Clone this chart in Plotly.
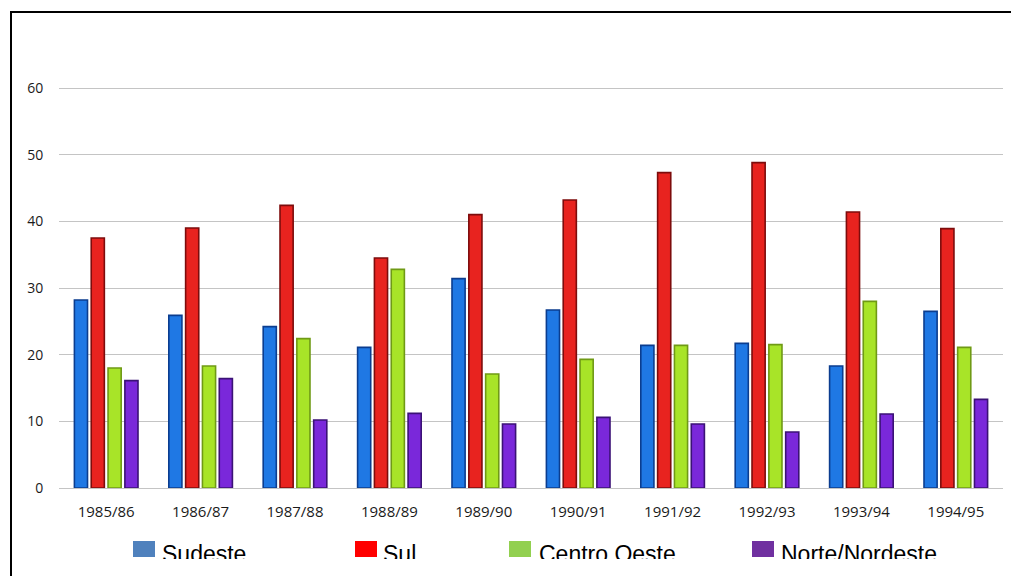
import plotly.graph_objects as go

# Figure size in pixels
W, H = 1011, 576

# ---- data ----
seasons = ["1985/86", "1986/87", "1987/88", "1988/89", "1989/90",
           "1990/91", "1991/92", "1992/93", "1993/94", "1994/95"]
regions = ["Sudeste", "Sul", "Centro Oeste", "Norte/Nordeste"]
sudeste = [28.2, 25.9, 24.2, 21.1, 31.4, 26.7, 21.4, 21.7, 18.3, 26.5]
sul = [37.5, 39.0, 42.4, 34.5, 41.0, 43.2, 47.3, 48.8, 41.4, 38.9]
centro_oeste = [18.0, 18.3, 22.4, 32.8, 17.1, 19.3, 21.4, 21.5, 28.0, 21.1]
norte_nordeste = [16.1, 16.4, 10.2, 11.2, 9.6, 10.6, 9.6, 8.4, 11.1, 13.3]
y_ticks = [0, 10, 20, 30, 40, 50, 60]

series = [sudeste, sul, centro_oeste, norte_nordeste]

# ---- styles ----
bar_fill = ["#1F78E4", "#E8231F", "#A8E428", "#7A28DA"]
bar_edge = ["#0B3D8F", "#7D0C0C", "#6F9A15", "#3B1276"]
legend_fill = ["#4F81BD", "#FF0000", "#92D050", "#7030A0"]
legend_box_x = [133, 355, 509, 752]      # left edge of each legend swatch (px)
legend_text_x = [162, 383, 539, 781]     # start of each legend label (px)
grid_col = "#C4C4C4"


def fx(px):
    return px / W


def fy(py):
    return 1 - py / H


fig = go.Figure()

for name, vals, fc, ec in zip(regions, series, bar_fill, bar_edge):
    fig.add_trace(go.Bar(
        x=seasons, y=vals, name=name, showlegend=False,
        marker=dict(color=fc, line=dict(color=ec, width=1.6)),
        xaxis="x", yaxis="y", hoverinfo="x+y+name",
    ))

# Legend row drawn in its own small subplot so the labels are clipped at its lower edge
fig.add_trace(go.Scatter(
    x=legend_text_x, y=[556] * len(regions), text=regions,
    mode="text", textposition="middle right", cliponaxis=True,
    textfont=dict(family="Liberation Sans, Arial, sans-serif", size=23, color="#000000"),
    xaxis="x2", yaxis="y2", showlegend=False, hoverinfo="skip",
))

shapes = []
for x0, col in zip(legend_box_x, legend_fill):
    shapes.append(dict(type="rect", xref="x2", yref="y2",
                       x0=x0, x1=x0 + 22, y0=541, y1=557,
                       fillcolor=col, line=dict(width=0)))

# Frame lines (left and top)
shapes.append(dict(type="line", xref="paper", yref="paper",
                   x0=fx(11), x1=fx(11), y0=fy(11), y1=fy(H + 5),
                   line=dict(color="#000000", width=2)))
shapes.append(dict(type="line", xref="paper", yref="paper",
                   x0=fx(10), x1=fx(W + 5), y0=fy(12), y1=fy(12),
                   line=dict(color="#000000", width=2)))

y_top_px = 84
y_zero_px = 488
y_max = 60 * (y_zero_px - y_top_px) / 400.0

fig.update_layout(
    template="none",
    width=W, height=H,
    margin=dict(l=0, r=0, t=0, b=0, autoexpand=False),
    paper_bgcolor="#FFFFFF", plot_bgcolor="rgba(0,0,0,0)",
    barmode="group", bargap=0.287, bargroupgap=0.22,
    shapes=shapes,
    xaxis=dict(
        domain=[fx(59), fx(1003)], anchor="y", automargin=False,
        showgrid=False, showline=False, zeroline=False,
        ticks="outside", ticklen=10, tickcolor="rgba(0,0,0,0)",
        tickfont=dict(family="Open Sans, sans-serif", size=15, color="#1A1A1A"),
        fixedrange=True,
    ),
    yaxis=dict(
        domain=[fy(y_zero_px), fy(y_top_px)], anchor="x", automargin=False,
        range=[0, y_max], tickvals=y_ticks,
        showgrid=True, gridcolor=grid_col, gridwidth=1.4,
        zeroline=True, zerolinecolor=grid_col, zerolinewidth=1.4,
        showline=False,
        ticks="outside", ticklen=12, tickcolor="rgba(0,0,0,0)",
        tickfont=dict(family="Open Sans, sans-serif", size=14, color="#1A1A1A"),
        fixedrange=True,
    ),
    xaxis2=dict(domain=[0, 1], range=[0, W], anchor="y2", visible=False,
                fixedrange=True, automargin=False),
    yaxis2=dict(domain=[fy(559), fy(528)], range=[559, 528], anchor="x2",
                visible=False, fixedrange=True, automargin=False),
)

fig.write_html("out.html")
